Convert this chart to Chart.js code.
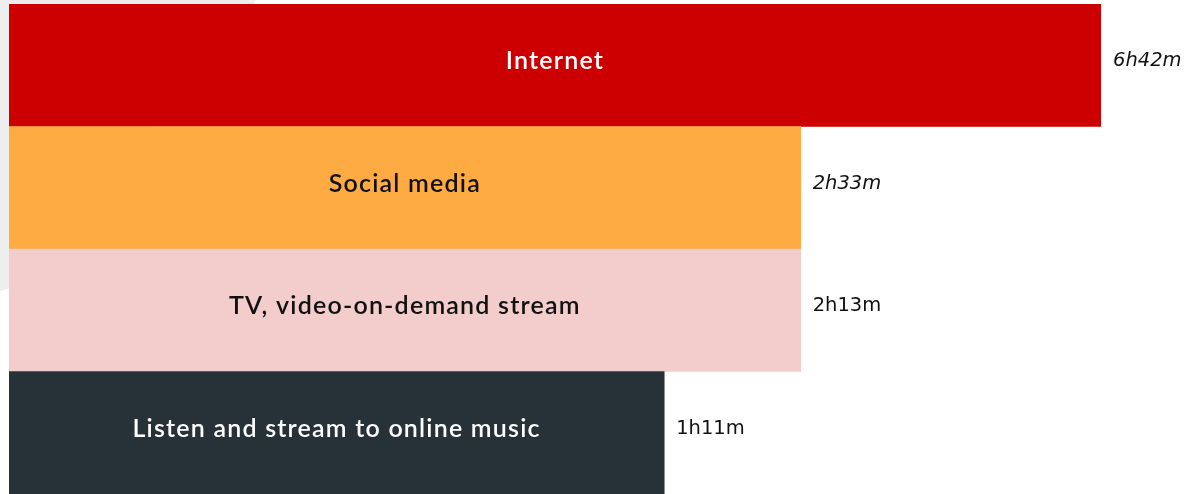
<!DOCTYPE html>
<html>
<head>
<meta charset="utf-8">
<script src="https://cdn.jsdelivr.net/npm/chart.js@4/dist/chart.umd.min.js"></script>
<style>
  html, body { margin: 0; padding: 0; background: #ffffff; }
  #wrap { position: relative; width: 1190px; height: 494px; overflow: hidden; }
  /* faint grey backdrop shape in the top-left corner */
  #backdrop {
    position: absolute; left: 0; top: 0; width: 260px; height: 300px;
    background: #eeeeee;
    clip-path: polygon(0 0, 256px 0, 10px 288px, 0 291px);
  }
  #chart { position: absolute; left: 0; top: 0; }
</style>
</head>
<body>
<div id="wrap">
  <div id="backdrop"></div>
  <canvas id="chart" width="1190" height="494"></canvas>
</div>
<script>
// activities, bar length (share of the longest bar) and the time label shown next to it
const categories = ['Internet', 'Social media', 'TV, video-on-demand stream', 'Listen and stream to online music'];
const barLengths = [100, 72.5, 72.5, 60];
const durations = ['6h42m', '2h33m', '2h13m', '1h11m'];
const italicDuration = [true, true, false, false];

const BAR_COLORS = ['#cc0000', '#ffab44', '#f3cccc', '#263238'];
const TEXT_COLORS = ['#ffffff', '#111111', '#111111', '#ffffff'];
const LABEL_FONT = "'Lato', 'Noto Sans', sans-serif";
const VALUE_FONT = "'DejaVu Sans', sans-serif";

// draws the category name centred in each bar and the duration just past its end
const barLabels = {
  id: 'barLabels',
  afterDatasetsDraw(chart) {
    const { ctx } = chart;
    const meta = chart.getDatasetMeta(0);
    ctx.save();
    ctx.textBaseline = 'alphabetic';
    meta.data.forEach((bar, i) => {
      const mid = (bar.base + bar.x) / 2;
      ctx.font = `600 25px ${LABEL_FONT}`;
      ctx.letterSpacing = '1.2px';
      ctx.fillStyle = TEXT_COLORS[i];
      ctx.textAlign = 'center';
      ctx.fillText(categories[i], mid, bar.y + 4);

      ctx.font = `${italicDuration[i] ? 'italic ' : ''}19.5px ${VALUE_FONT}`;
      ctx.letterSpacing = '0px';
      ctx.fillStyle = '#111111';
      ctx.textAlign = 'left';
      ctx.fillText(durations[i], bar.x + 12, bar.y + 1);
    });
    ctx.restore();
  },
};

new Chart(document.getElementById('chart').getContext('2d'), {
  type: 'bar',
  data: {
    labels: categories,
    datasets: [
      {
        data: barLengths,
        backgroundColor: BAR_COLORS,
        borderWidth: 0,
        barPercentage: 1,
        categoryPercentage: 1,
      },
    ],
  },
  options: {
    indexAxis: 'y',
    responsive: false,
    animation: false,
    layout: { padding: { left: 9, top: 4, right: 89, bottom: 0 } },
    plugins: {
      legend: { display: false },
      tooltip: { enabled: false },
    },
    scales: {
      x: { display: false, min: 0, max: 100 },
      y: { display: false },
    },
  },
  plugins: [barLabels],
});
</script>
</body>
</html>
